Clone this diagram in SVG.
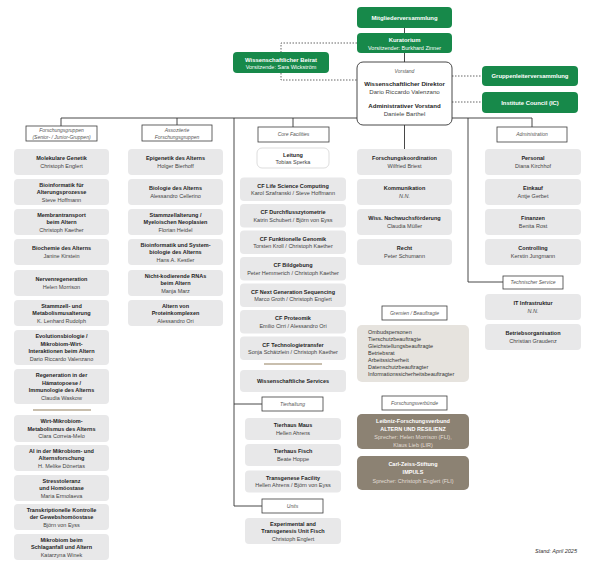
<svg xmlns="http://www.w3.org/2000/svg" width="600" height="570" viewBox="0 0 600 570">
<style>
text{font-family:"Liberation Sans",Arial,sans-serif;text-anchor:middle}
.n{fill:#e8e8e9}
.t{font-size:5.5px;font-weight:bold;fill:#1e1e1e}
.s{font-size:5.5px;fill:#444}
.si{font-size:5.5px;fill:#444;font-style:italic}
.lb{fill:#fff;stroke:#3c3c3c;stroke-width:0.8}
.li{font-size:5px;font-style:italic;fill:#555}
.g{fill:#17894a}
.gt{font-size:5.9px;font-weight:bold;fill:#fff}
.gs{font-size:5.5px;fill:#fff}
.vt{font-size:6.1px;font-weight:bold;fill:#1e1e1e}
.vs{font-size:6.1px;fill:#444}
.c{fill:none;stroke:#333;stroke-width:0.9}
.d{fill:none;stroke:#555;stroke-width:0.9;stroke-dasharray:1.5 1.5}
.sep{stroke:#c9bfae;stroke-width:2}
.gl{font-size:5.5px;fill:#333;text-anchor:start}
.br{fill:#8c8273}
.bt{font-size:5.5px;font-weight:bold;fill:#fff}
.bs{font-size:5.5px;fill:#e2ddd5}
</style>
<g id="connectors">
<path class="c" d="M404.5 28V33M404.5 53V62M404.5 125V149"/>
<path class="d" d="M357 43H281V52M281 73V80H357M452 76H482M452 102H482"/>
<path class="c" d="M61 118H532M61 118V126M177 118V125M293 118V127M532 118V127"/>
<path class="c" d="M234 118V506H262M234 404H262"/>
<path class="c" d="M468 118V282H503"/>
</g>
<g id="mitgliederversammlung"><rect class="g" x="357" y="7" width="95" height="21" rx="4"/><text class="gt" x="404.5" y="19.5">Mitgliederversammlung</text></g>
<g id="kuratorium"><rect class="g" x="357" y="33" width="95" height="20" rx="4"/><text class="gt" x="404.5" y="42.3">Kuratorium</text><text class="gs" x="404.5" y="49.7">Vorsitzender: Burkhard Zinner</text></g>
<g id="beirat"><rect class="g" x="233" y="52" width="96" height="21" rx="4"/><text class="gt" x="281" y="62.3">Wissenschaftlicher Beirat</text><text class="gs" x="281" y="69.2">Vorsitzende: Sara Wickström</text></g>
<g id="gruppenleiterversammlung"><rect class="g" x="482" y="66" width="96" height="20" rx="4"/><text class="gt" x="530" y="78">Gruppenleiterversammlung</text></g>
<g id="institute-council"><rect class="g" x="482" y="92" width="96" height="21" rx="4"/><text class="gt" x="530" y="104.5">Institute Council (IC)</text></g>
<g id="vorstand"><rect x="357" y="62" width="95" height="63" rx="6" fill="#fff" stroke="#333" stroke-width="0.9"/>
<text class="li" x="404.5" y="73">Vorstand</text>
<text class="vt" x="404.5" y="86.2">Wissenschaftlicher Direktor</text>
<text class="vs" x="404.5" y="93.8">Dario Riccardo Valenzano</text>
<text class="vt" x="404.5" y="107.8">Administrativer Vorstand</text>
<text class="vs" x="404.5" y="115.5">Daniele Barthel</text></g>

<g id="lbl-forschungsgruppen"><rect class="lb" x="26" y="126" width="71" height="15"/><text class="li" x="61.5" y="132">Forschungsgruppen</text><text class="li" x="61.5" y="138.8">(Senior- / Junior-Gruppen)</text></g>
<g id="lbl-assoziierte"><rect class="lb" x="142" y="125" width="70" height="16"/><text class="li" x="177" y="131.5">Assoziierte</text><text class="li" x="177" y="138.5">Forschungsgruppen</text></g>
<g id="lbl-core"><rect class="lb" x="258" y="127" width="71" height="15"/><text class="li" x="293.5" y="136.3">Core Facilities</text></g>
<g id="lbl-administration"><rect class="lb" x="497" y="127" width="70" height="15"/><text class="li" x="532" y="136.3">Administration</text></g>
<g id="lbl-technischer"><rect class="lb" x="503" y="276" width="60" height="13"/><text class="li" x="533" y="284.3">Technischer Service</text></g>
<g id="lbl-gremien"><rect class="lb" x="382" y="306" width="65" height="14"/><text class="li" x="414.5" y="314.8">Gremien / Beauftragte</text></g>
<g id="lbl-verbuende"><rect class="lb" x="382" y="396" width="65" height="14"/><text class="li" x="414.5" y="404.8">Forschungsverbünde</text></g>
<g id="lbl-tierhaltung"><rect class="lb" x="262" y="397" width="61" height="14"/><text class="li" x="292.5" y="405.8">Tierhaltung</text></g>
<g id="lbl-units"><rect class="lb" x="262" y="499" width="61" height="14"/><text class="li" x="292.5" y="507.8">Units</text></g>

<g id="molekulare-genetik"><rect class="n" x="14" y="149" width="95" height="26" rx="4"/><text class="t" x="61.5" y="160.25">Molekulare Genetik</text><text class="s" x="61.5" y="167.75">Christoph Englert</text></g>
<g id="bioinformatik-alterung"><rect class="n" x="14" y="179" width="95" height="26" rx="4"/><text class="t" x="61.5" y="186.5">Bioinformatik für</text><text class="t" x="61.5" y="194">Alterungsprozesse</text><text class="s" x="61.5" y="201.5">Steve Hoffmann</text></g>
<g id="membrantransport"><rect class="n" x="14" y="209" width="95" height="26" rx="4"/><text class="t" x="61.5" y="216.5">Membrantransport</text><text class="t" x="61.5" y="224">beim Altern</text><text class="s" x="61.5" y="231.5">Christoph Kaether</text></g>
<g id="biochemie"><rect class="n" x="14" y="239" width="95" height="26" rx="4"/><text class="t" x="61.5" y="250.25">Biochemie des Alterns</text><text class="s" x="61.5" y="257.75">Janine Kirstein</text></g>
<g id="nervenregeneration"><rect class="n" x="14" y="270" width="95" height="26" rx="4"/><text class="t" x="61.5" y="281.25">Nervenregeneration</text><text class="s" x="61.5" y="288.75">Helen Morrison</text></g>
<g id="stammzell"><rect class="n" x="14" y="300" width="95" height="26" rx="4"/><text class="t" x="61.5" y="307.5">Stammzell- und</text><text class="t" x="61.5" y="315">Metabolismusalterung</text><text class="s" x="61.5" y="322.5">K. Lenhard Rudolph</text></g>
<g id="evolutionsbiologie"><rect class="n" x="14" y="330" width="95" height="35" rx="4"/><text class="t" x="61.5" y="338.25">Evolutionsbiologie /</text><text class="t" x="61.5" y="345.75">Mikrobiom-Wirt-</text><text class="t" x="61.5" y="353.25">Interaktionen beim Altern</text><text class="s" x="61.5" y="360.75">Dario Riccardo Valenzano</text></g>
<g id="regeneration"><rect class="n" x="14" y="369" width="95" height="35" rx="4"/><text class="t" x="61.5" y="377.25">Regeneration in der</text><text class="t" x="61.5" y="384.75">Hämatopoese /</text><text class="t" x="61.5" y="392.25">Immunologie des Alterns</text><text class="s" x="61.5" y="399.75">Claudia Waskow</text></g>
<line class="sep" x1="33" y1="410" x2="91" y2="410"/>
<g id="wirt-mikrobiom"><rect class="n" x="14" y="415" width="95" height="27" rx="4"/><text class="t" x="61.5" y="423">Wirt-Mikrobiom-</text><text class="t" x="61.5" y="430.5">Metabolismus des Alterns</text><text class="s" x="61.5" y="438">Clara Correia-Melo</text></g>
<g id="ai-mikrobiom"><rect class="n" x="14" y="445" width="95" height="26" rx="4"/><text class="t" x="61.5" y="452.5">AI in der Mikrobiom- und</text><text class="t" x="61.5" y="460">Alternsforschung</text><text class="s" x="61.5" y="467.5">H. Melike Dönertas</text></g>
<g id="stresstoleranz"><rect class="n" x="14" y="475" width="95" height="26" rx="4"/><text class="t" x="61.5" y="482.5">Stresstoleranz</text><text class="t" x="61.5" y="490">und Homöostase</text><text class="s" x="61.5" y="497.5">Maria Ermolaeva</text></g>
<g id="transkriptionelle"><rect class="n" x="14" y="504" width="95" height="26" rx="4"/><text class="t" x="61.5" y="511.5">Transkriptionelle Kontrolle</text><text class="t" x="61.5" y="519">der Gewebshomöostase</text><text class="s" x="61.5" y="526.5">Björn von Eyss</text></g>
<g id="mikrobiom-schlaganfall"><rect class="n" x="14" y="534" width="95" height="26" rx="4"/><text class="t" x="61.5" y="541.5">Mikrobiom beim</text><text class="t" x="61.5" y="549">Schlaganfall und Altern</text><text class="s" x="61.5" y="556.5">Katarzyna Winek</text></g>

<g id="epigenetik"><rect class="n" x="128" y="149" width="95" height="26" rx="4"/><text class="t" x="175.5" y="160.25">Epigenetik des Alterns</text><text class="s" x="175.5" y="167.75">Holger Bierhoff</text></g>
<g id="biologie"><rect class="n" x="128" y="179" width="95" height="26" rx="4"/><text class="t" x="175.5" y="190.25">Biologie des Alterns</text><text class="s" x="175.5" y="197.75">Alessandro Cellerino</text></g>
<g id="stammzellalterung"><rect class="n" x="128" y="209" width="95" height="26" rx="4"/><text class="t" x="175.5" y="216.5">Stammzellalterung /</text><text class="t" x="175.5" y="224">Myeloischen Neoplasien</text><text class="s" x="175.5" y="231.5">Florian Heidel</text></g>
<g id="bioinformatik-system"><rect class="n" x="128" y="239" width="95" height="26" rx="4"/><text class="t" x="175.5" y="246.5">Bioinformatik und System-</text><text class="t" x="175.5" y="254">biologie des Alterns</text><text class="s" x="175.5" y="261.5">Hans A. Kestler</text></g>
<g id="nicht-kodierende"><rect class="n" x="128" y="270" width="95" height="26" rx="4"/><text class="t" x="175.5" y="277.5">Nicht-kodierende RNAs</text><text class="t" x="175.5" y="285">beim Altern</text><text class="s" x="175.5" y="292.5">Manja Marz</text></g>
<g id="proteinkomplexe"><rect class="n" x="128" y="300" width="95" height="26" rx="4"/><text class="t" x="175.5" y="307.5">Altern von</text><text class="t" x="175.5" y="315">Proteinkomplexen</text><text class="s" x="175.5" y="322.5">Alessandro Ori</text></g>

<g id="leitung"><rect x="257" y="148" width="72" height="20" rx="5" fill="#fff" stroke="#d4d4d4" stroke-width="0.8"/><text class="t" x="293" y="156.5">Leitung</text><text class="s" x="293" y="164">Tobias Sperka</text></g>
<g id="cf-lsc"><rect class="n" x="240" y="177.5" width="106" height="23.5" rx="4"/><text class="t" x="293" y="187.5">CF Life Science Computing</text><text class="s" x="293" y="195">Karol Szafranski / Steve Hoffmann</text></g>
<g id="cf-durchfluss"><rect class="n" x="240" y="204" width="106" height="23.5" rx="4"/><text class="t" x="293" y="214">CF Durchflusszytometrie</text><text class="s" x="293" y="221.5">Katrin Schubert / Björn von Eyss</text></g>
<g id="cf-genomik"><rect class="n" x="240" y="230.5" width="106" height="23.5" rx="4"/><text class="t" x="293" y="240.5">CF Funktionelle Genomik</text><text class="s" x="293" y="248">Torsten Kroll / Christoph Kaether</text></g>
<g id="cf-bildgebung"><rect class="n" x="240" y="257" width="106" height="23.5" rx="4"/><text class="t" x="293" y="267">CF Bildgebung</text><text class="s" x="293" y="274.5">Peter Hemmerich / Christoph Kaether</text></g>
<g id="cf-ngs"><rect class="n" x="240" y="283.5" width="106" height="23.5" rx="4"/><text class="t" x="293" y="293.5">CF Next Generation Sequencing</text><text class="s" x="293" y="301">Marco Groth / Christoph Englert</text></g>
<g id="cf-proteomik"><rect class="n" x="240" y="310" width="106" height="23.5" rx="4"/><text class="t" x="293" y="320">CF Proteomik</text><text class="s" x="293" y="327.5">Emilio Cirri / Alessandro Ori</text></g>
<g id="cf-technologietransfer"><rect class="n" x="240" y="336.5" width="106" height="23.5" rx="4"/><text class="t" x="293" y="346.5">CF Technologietransfer</text><text class="s" x="293" y="354">Sonja Schätzlein / Christoph Kaether</text></g>
<line class="sep" x1="264" y1="364" x2="322" y2="364"/>
<g id="wiss-services"><rect class="n" x="240" y="370" width="106" height="22" rx="4"/><text class="t" x="293" y="383">Wissenschaftliche Services</text></g>
<g id="tierhaus-maus"><rect class="n" x="245" y="418" width="96" height="22" rx="4"/><text class="t" x="293" y="427.25">Tierhaus Maus</text><text class="s" x="293" y="434.75">Hellen Ahrens</text></g>
<g id="tierhaus-fisch"><rect class="n" x="245" y="444" width="96" height="22" rx="4"/><text class="t" x="293" y="453.25">Tierhaus Fisch</text><text class="s" x="293" y="460.75">Beate Hoppe</text></g>
<g id="transgenese"><rect class="n" x="245" y="470.5" width="96" height="22" rx="4"/><text class="t" x="293" y="479.75">Transgenese Facility</text><text class="s" x="293" y="487.25">Hellen Ahrens / Björn von Eyss</text></g>
<g id="experimental-unit"><rect class="n" x="245" y="518" width="96" height="26" rx="4"/><text class="t" x="293" y="525.5">Experimental and</text><text class="t" x="293" y="533">Transgenesis Unit Fisch</text><text class="s" x="293" y="540.5">Christoph Englert</text></g>

<g id="forschungskoordination"><rect class="n" x="357" y="149" width="95" height="26" rx="4"/><text class="t" x="404.5" y="160.25">Forschungskoordination</text><text class="s" x="404.5" y="167.75">Wilfried Briest</text></g>
<g id="kommunikation"><rect class="n" x="357" y="179" width="95" height="26" rx="4"/><text class="t" x="404.5" y="190.25">Kommunikation</text><text class="si" x="404.5" y="197.75">N.N.</text></g>
<g id="nachwuchs"><rect class="n" x="357" y="209" width="95" height="26" rx="4"/><text class="t" x="404.5" y="220.25">Wiss. Nachwuchsförderung</text><text class="s" x="404.5" y="227.75">Claudia Müller</text></g>
<g id="recht"><rect class="n" x="357" y="239" width="95" height="26" rx="4"/><text class="t" x="404.5" y="250.25">Recht</text><text class="s" x="404.5" y="257.75">Peter Schumann</text></g>
<g id="gremien"><rect x="357" y="325" width="112" height="57" rx="5" fill="#e6e3de"/>
<text class="gl" x="368" y="334">Ombudspersonen</text><text class="gl" x="368" y="341">Tierschutzbeauftragte</text><text class="gl" x="368" y="348">Gleichstellungsbeauftragte</text><text class="gl" x="368" y="355">Betriebsrat</text><text class="gl" x="368" y="362">Arbeitssicherheit</text><text class="gl" x="368" y="369">Datenschutzbeauftragter</text><text class="gl" x="368" y="376">Informationssicherheitsbeauftragter</text></g>
<g id="leibniz"><rect class="br" x="357" y="414" width="112" height="35" rx="5"/><text class="bt" x="413" y="423">Leibniz-Forschungsverbund</text><text class="bt" x="413" y="430.5">ALTERN UND RESILIENZ</text><text class="bs" x="413" y="439">Sprecher: Helen Morrison (FLI),</text><text class="bs" x="413" y="446.5">Klaus Lieb (LIR)</text></g>
<g id="carl-zeiss"><rect class="br" x="357" y="456" width="112" height="34" rx="5"/><text class="bt" x="413" y="466">Carl-Zeiss-Stiftung</text><text class="bt" x="413" y="473.5">IMPULS</text><text class="bs" x="413" y="482.5">Sprecher: Christoph Englert (FLI)</text></g>

<g id="personal"><rect class="n" x="485" y="149" width="96" height="26" rx="4"/><text class="t" x="533" y="160.25">Personal</text><text class="s" x="533" y="167.75">Diana Kirchhof</text></g>
<g id="einkauf"><rect class="n" x="485" y="179" width="96" height="26" rx="4"/><text class="t" x="533" y="190.25">Einkauf</text><text class="s" x="533" y="197.75">Antje Gerbet</text></g>
<g id="finanzen"><rect class="n" x="485" y="209" width="96" height="26" rx="4"/><text class="t" x="533" y="220.25">Finanzen</text><text class="s" x="533" y="227.75">Benita Rost</text></g>
<g id="controlling"><rect class="n" x="485" y="239" width="96" height="26" rx="4"/><text class="t" x="533" y="250.25">Controlling</text><text class="s" x="533" y="257.75">Kerstin Jungmann</text></g>
<g id="it-infrastruktur"><rect class="n" x="485" y="294" width="96" height="26" rx="4"/><text class="t" x="533" y="305.25">IT Infrastruktur</text><text class="si" x="533" y="312.75">N.N.</text></g>
<g id="betriebsorganisation"><rect class="n" x="485" y="324" width="96" height="26" rx="4"/><text class="t" x="533" y="335.25">Betriebsorganisation</text><text class="s" x="533" y="342.75">Christian Graudenz</text></g>
<text x="577" y="553" style="text-anchor:end;font-size:5.5px;font-style:italic;fill:#333">Stand: April 2025</text>
</svg>
